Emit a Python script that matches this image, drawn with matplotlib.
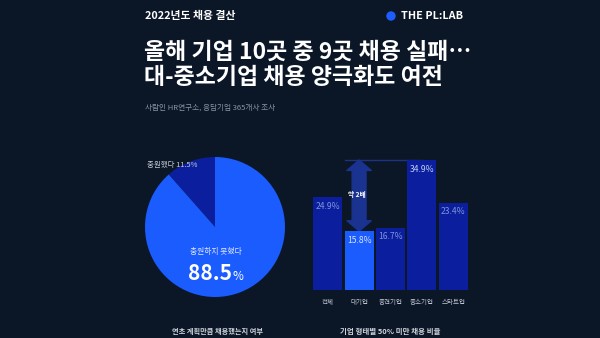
import matplotlib
matplotlib.use("Agg")
import matplotlib.pyplot as plt
from matplotlib.patches import Circle

plt.rcParams['font.family'] = ['Noto Sans CJK KR', 'DejaVu Sans']

# 데이터
pie_labels = ["충원했다", "충원하지 못했다"]
pie_values = [11.5, 88.5]

bar_categories = ["전체", "대기업", "중견기업", "중소기업", "스타트업"]
bar_values = [24.9, 15.8, 16.7, 34.9, 23.4]

W, H = 600, 338
BG = "#0b1727"
BRIGHT = "#1b5cff"
DARK = "#0b1f9e"


def px(x, y):
    # 픽셀 좌표 -> figure 좌표
    return x / W, 1 - y / H


fig = plt.figure(figsize=(W / 100, H / 100), dpi=100, facecolor=BG)

# 헤더
fig.text(*px(145, 16), "2022년도 채용 결산", color="white", fontsize=7.8,
         fontweight="bold", ha="left", va="center")
fig.add_artist(Circle((3.91, (H - 16) / 100), 0.04, color="#1e5eff",
                      transform=fig.dpi_scale_trans))
fig.text(*px(401, 16), "THE PL:LAB", color="white", fontsize=7.8,
         fontweight="bold", ha="left", va="center")
fig.text(*px(144, 52), "올해 기업 10곳 중 9곳 채용 실패…", color="white",
         fontsize=16.5, fontweight="bold", ha="left", va="center")
fig.text(*px(144, 77), "대-중소기업 채용 양극화도 여전", color="white",
         fontsize=16.5, fontweight="bold", ha="left", va="center")
fig.text(*px(145, 108), "사람인 HR연구소, 응답기업 365개사 조사",
         color="#8a93a3", fontsize=5.5, fontweight="medium",
         ha="left", va="center")

# 파이 차트
r = 70
cx, cy = 215, 227
ax1 = fig.add_axes([(cx - r) / W, (H - cy - r) / H, 2 * r / W, 2 * r / H])
ax1.set_facecolor(BG)
ax1.pie(pie_values, colors=[DARK, BRIGHT], startangle=90,
        counterclock=True, radius=1)
ax1.set_xlim(-1, 1)
ax1.set_ylim(-1, 1)
ax1.axis("off")

fig.text(*px(147, 165), "%s %.1f%%" % (pie_labels[0], pie_values[0]),
         color="#c9ced8", fontsize=5.4, fontweight="medium",
         ha="left", va="center")
fig.text(*px(216, 252), pie_labels[1], color="#e3e9ff", fontsize=5.6,
         fontweight="medium", ha="center", va="center")
fig.text(*px(232, 280), "%.1f" % pie_values[1], color="white", fontsize=15,
         fontweight="bold", ha="right", va="baseline")
fig.text(*px(232.5, 280), "%", color="white", fontsize=8.5,
         ha="left", va="baseline")
fig.text(*px(217, 331), "연초 계획만큼 채용했는지 여부", color="#d0d4dc",
         fontsize=5.2, fontweight="bold", ha="center", va="center")

# 막대 차트
unit = 130 / 34.9
ax2 = fig.add_axes([312 / W, 48 / H, 157 / W, 40 * unit / H])
ax2.set_facecolor(BG)
ax2.patch.set_alpha(0)
x = list(range(len(bar_categories)))
colors = [BRIGHT if c == "대기업" else DARK for c in bar_categories]
ax2.bar(x, bar_values, width=0.92, color=colors, zorder=2)
ax2.set_xlim(-0.5, 4.5)
ax2.set_ylim(0, 40)
ax2.axis("off")

val_colors = {"대기업": "#d5e2ff", "중소기업": "#c3cff3"}
for i, (c, v) in enumerate(zip(bar_categories, bar_values)):
    ax2.annotate("%.1f%%" % v, xy=(i, v), xytext=(0, -6.5),
                 textcoords="offset points", ha="center", va="center",
                 fontsize=6.2, color=val_colors.get(c, "#7f93db"), zorder=4)
    ax2.annotate(c, xy=(i, 0), xytext=(0, -8.8), textcoords="offset points",
                 ha="center", va="center", fontsize=4.7, fontweight="medium",
                 color="#c0c6d2")

# 약 2배 화살표
i_big = bar_categories.index("대기업")
top = max(bar_values)
low = bar_values[i_big]
mid = (top + low) / 2
ax2.plot([i_big - 0.45, bar_categories.index("중소기업")], [top, top],
         color="#1d3282", lw=1, zorder=1)
arrow = dict(arrowstyle="simple,head_length=0.75,head_width=1.75,tail_width=1.0",
             color="#1a3290", shrinkA=0, shrinkB=0, mutation_scale=10)
ax2.annotate("", xy=(i_big, top), xytext=(i_big, mid), arrowprops=arrow,
             zorder=1)
ax2.annotate("", xy=(i_big, low), xytext=(i_big, mid), arrowprops=arrow,
             zorder=1)
ax2.text(i_big - 0.07, (290 - 195) / unit, "약 2배", color="white",
         fontsize=4.8, fontweight="bold", ha="center", va="center", zorder=5)

fig.text(*px(390, 331), "기업 형태별 50% 미만 채용 비율", color="#d0d4dc",
         fontsize=5.4, fontweight="bold", ha="center", va="center")

fig.savefig("out.png", dpi=100, facecolor=BG)
